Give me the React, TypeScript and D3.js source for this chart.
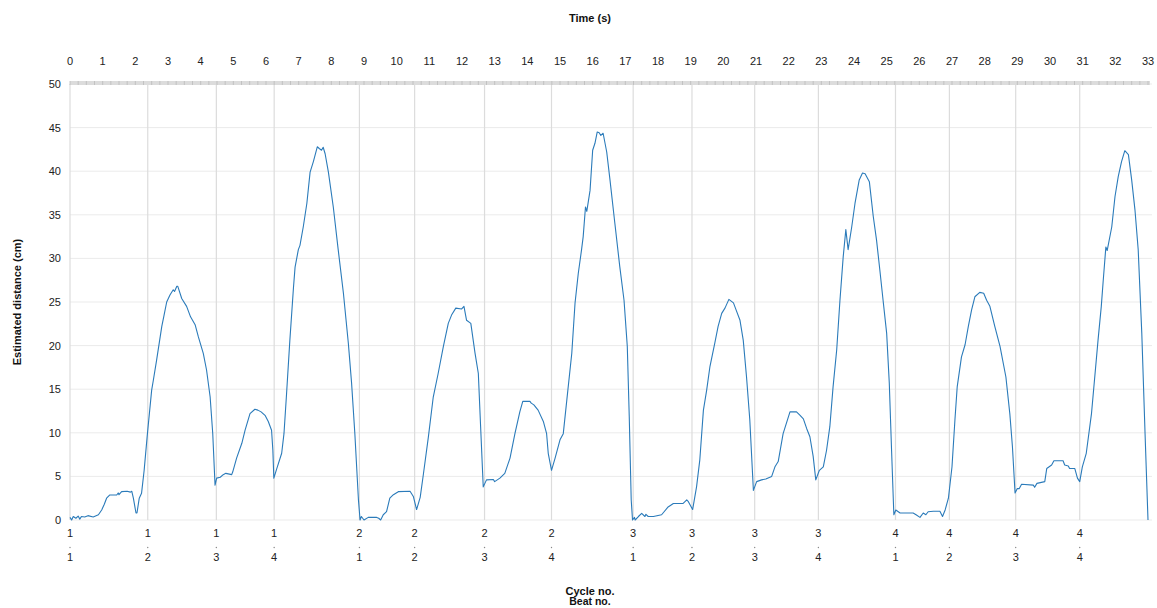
import React, { useEffect, useRef } from 'react';
import * as d3 from 'd3';

// distance trace (time in s, distance in cm)
const timeS = [
  0.0, 0.05, 0.1, 0.18, 0.25, 0.3, 0.35, 0.45, 0.55, 0.71, 0.87, 0.97, 1.05, 1.12, 1.22, 1.43, 1.48, 1.5, 1.58, 1.75,
  1.85, 1.89, 1.94, 2.02, 2.05, 2.12, 2.19, 2.27, 2.37, 2.5, 2.55, 2.65, 2.81, 2.88, 2.96, 3.06, 3.16, 3.2, 3.27, 3.3,
  3.42, 3.57, 3.69, 3.83, 3.93, 4.08, 4.18, 4.29, 4.37, 4.44, 4.49, 4.6, 4.69, 4.77, 4.95, 4.98, 5.1, 5.26, 5.36, 5.51,
  5.66, 5.75, 5.85, 5.97, 6.07, 6.17, 6.21, 6.24, 6.33, 6.48, 6.55, 6.63, 6.73, 6.84, 6.89, 6.99, 7.04, 7.14, 7.25, 7.35,
  7.45, 7.57, 7.63, 7.7, 7.75, 7.81, 7.91, 8.06, 8.21, 8.37, 8.52, 8.62, 8.72, 8.83, 8.88, 8.92, 9.0, 9.13, 9.39, 9.45,
  9.51, 9.59, 9.69, 9.79, 9.9, 10.05, 10.41, 10.51, 10.61, 10.72, 10.82, 10.97, 11.12, 11.27, 11.43, 11.58, 11.68, 11.81, 11.99, 12.06,
  12.14, 12.27, 12.4, 12.5, 12.57, 12.65, 12.75, 12.96, 13.0, 13.16, 13.31, 13.47, 13.62, 13.77, 13.86, 14.08, 14.12, 14.2, 14.33, 14.49,
  14.59, 14.64, 14.74, 14.85, 15.0, 15.1, 15.21, 15.36, 15.46, 15.56, 15.66, 15.71, 15.78, 15.82, 15.92, 16.0, 16.07, 16.14, 16.2, 16.25,
  16.32, 16.43, 16.53, 16.68, 16.83, 16.96, 17.06, 17.12, 17.18, 17.22, 17.28, 17.3, 17.4, 17.5, 17.6, 17.63, 17.7, 17.86, 18.11, 18.31,
  18.47, 18.77, 18.88, 18.93, 19.06, 19.18, 19.28, 19.39, 19.49, 19.59, 19.74, 19.84, 19.95, 20.05, 20.17, 20.31, 20.39, 20.51, 20.61, 20.71,
  20.81, 20.92, 21.02, 21.17, 21.3, 21.48, 21.58, 21.68, 21.83, 22.04, 22.24, 22.35, 22.45, 22.55, 22.65, 22.75, 22.83, 22.94, 23.06, 23.16,
  23.26, 23.36, 23.47, 23.57, 23.67, 23.75, 23.82, 23.93, 24.03, 24.16, 24.26, 24.34, 24.47, 24.59, 24.69, 24.79, 24.89, 25.0, 25.08, 25.15,
  25.22, 25.28, 25.41, 25.81, 25.9, 26.02, 26.12, 26.2, 26.27, 26.43, 26.63, 26.71, 26.79, 26.89, 27.0, 27.09, 27.16, 27.29, 27.4, 27.5,
  27.6, 27.7, 27.85, 27.97, 28.06, 28.16, 28.31, 28.47, 28.65, 28.77, 28.85, 28.93, 29.0, 29.06, 29.13, 29.49, 29.53, 29.6, 29.84, 29.9,
  30.05, 30.12, 30.4, 30.45, 30.56, 30.6, 30.76, 30.84, 30.91, 30.99, 31.11, 31.27, 31.37, 31.47, 31.57, 31.63, 31.71, 31.75, 31.89, 31.99,
  32.09, 32.19, 32.29, 32.4, 32.5, 32.6, 32.7, 32.81, 32.91, 33.0
];
const distanceCm = [
  0.3, 0.0, 0.4, 0.2, 0.45, 0.1, 0.4, 0.35, 0.5, 0.35, 0.6, 1.15, 1.8, 2.5, 2.87, 2.87, 3.1, 2.9, 3.25, 3.3,
  3.2, 3.3, 2.5, 0.8, 0.8, 2.5, 3.06, 5.7, 9.9, 14.9, 16.0, 18.3, 22.2, 23.5, 25.0, 25.8, 26.4, 26.2, 26.8, 26.8,
  25.4, 24.5, 23.3, 22.4, 21.0, 19.1, 17.2, 14.1, 9.9, 4.0, 4.8, 4.9, 5.2, 5.35, 5.2, 5.5, 7.1, 8.8, 10.3, 12.2,
  12.7, 12.6, 12.4, 12.0, 11.3, 10.3, 8.0, 4.8, 5.9, 7.65, 9.9, 14.5, 20.6, 26.6, 29.0, 31.0, 31.5, 33.6, 36.3, 39.9,
  41.1, 42.8, 42.6, 42.4, 42.75, 42.0, 39.9, 35.9, 31.0, 26.0, 20.3, 15.7, 9.9, 2.3, 0.0, 0.4, 0.0, 0.3, 0.3, 0.2,
  0.0, 0.6, 0.95, 2.5, 2.9, 3.25, 3.3, 2.7, 1.2, 2.6, 5.3, 9.5, 14.1, 16.8, 19.9, 22.55, 23.5, 24.3, 24.2, 24.5,
  22.9, 22.55, 19.1, 16.8, 10.7, 3.8, 4.6, 4.65, 4.4, 4.8, 5.35, 7.1, 9.9, 12.4, 13.6, 13.6, 13.4, 13.2, 12.6, 11.3,
  9.9, 7.65, 5.7, 7.1, 9.2, 9.9, 13.8, 19.1, 24.85, 28.3, 31.0, 32.5, 35.9, 35.4, 37.8, 42.4, 43.2, 44.5, 44.4, 44.1,
  44.35, 42.2, 39.0, 34.0, 29.05, 25.2, 19.9, 11.85, 2.3, 0.0, 0.3, 0.0, 0.4, 0.77, 0.4, 0.65, 0.4, 0.4, 0.6, 1.5,
  1.9, 1.9, 2.3, 2.1, 1.2, 3.8, 6.9, 12.6, 14.9, 17.6, 20.3, 22.2, 23.7, 24.3, 25.3, 24.9, 24.1, 22.9, 20.6, 16.4,
  11.5, 3.4, 4.4, 4.6, 4.7, 5.0, 6.1, 6.7, 9.9, 12.4, 12.4, 12.0, 11.6, 10.5, 9.55, 7.3, 4.6, 5.7, 6.1, 8.0,
  10.7, 15.3, 19.5, 25.2, 30.2, 33.3, 31.0, 33.6, 36.3, 39.0, 39.8, 39.7, 38.8, 34.8, 32.1, 28.7, 25.2, 21.4, 15.7, 8.0,
  0.6, 1.15, 0.8, 0.8, 0.6, 0.3, 0.8, 0.6, 0.95, 1.0, 1.0, 0.4, 1.15, 2.5, 6.1, 11.5, 15.3, 18.7, 20.1, 22.2,
  24.1, 25.6, 26.1, 26.0, 25.2, 24.5, 22.2, 19.9, 16.4, 12.2, 8.4, 3.1, 3.6, 3.6, 4.1, 4.0, 3.75, 4.2, 4.4, 5.9,
  6.3, 6.8, 6.8, 6.3, 6.2, 5.9, 5.9, 4.8, 4.4, 6.1, 7.65, 12.2, 16.4, 20.6, 24.5, 27.5, 31.3, 30.9, 33.6, 37.1,
  39.4, 41.1, 42.35, 41.9, 39.0, 35.6, 31.0, 21.4, 9.9, 0.0
];

// beat onsets
const beatTimes = [0, 2.38, 4.48, 6.25, 8.86, 10.55, 12.69, 14.74, 17.24, 19.04, 20.96, 22.91, 25.27, 26.92, 28.95, 30.91];
const cycleNo = [1, 1, 1, 1, 2, 2, 2, 2, 3, 3, 3, 3, 4, 4, 4, 4];
const beatNo = [1, 2, 3, 4, 1, 2, 3, 4, 1, 2, 3, 4, 1, 2, 3, 4];

const yTicks = [0, 5, 10, 15, 20, 25, 30, 35, 40, 45, 50];
const xTicks = d3.range(0, 34);

const FONT = '"Liberation Sans", Arial, sans-serif';

export default function App() {
  const ref = useRef(null);

  useEffect(() => {
    const W = 1157, H = 608;
    const left = 70, right = 1148, top = 84, bottom = 520;

    const svg = d3.select(ref.current);
    svg.selectAll('*').remove();
    svg.attr('width', W).attr('height', H);

    const x = d3.scaleLinear().domain([0, 33]).range([left, right]);
    const y = d3.scaleLinear().domain([0, 50]).range([bottom, top]);

    // horizontal grid
    svg.append('g')
      .selectAll('line')
      .data(yTicks)
      .enter()
      .append('line')
      .attr('x1', left).attr('x2', 1152)
      .attr('y1', d => y(d)).attr('y2', d => y(d))
      .attr('stroke', '#ebebeb')
      .attr('stroke-width', 1);

    // beat lines
    svg.append('g')
      .selectAll('line')
      .data(beatTimes)
      .enter()
      .append('line')
      .attr('x1', d => x(d)).attr('x2', d => x(d))
      .attr('y1', top).attr('y2', bottom)
      .attr('stroke', '#dcdcdc')
      .attr('stroke-width', 1.2);

    // top time band with minor ticks
    svg.append('rect')
      .attr('x', left).attr('y', top - 3)
      .attr('width', right - left + 2).attr('height', 4)
      .attr('fill', '#dcdcdc');
    svg.append('g')
      .selectAll('line')
      .data(d3.range(0, 33.01, 0.25))
      .enter()
      .append('line')
      .attr('x1', d => x(d)).attr('x2', d => x(d))
      .attr('y1', top - 3).attr('y2', top + 1)
      .attr('stroke', '#bbb')
      .attr('stroke-width', 0.8);

    // top axis labels
    svg.append('g')
      .selectAll('text')
      .data(xTicks)
      .enter()
      .append('text')
      .attr('x', d => x(d))
      .attr('y', 65)
      .attr('text-anchor', 'middle')
      .attr('font-family', FONT)
      .attr('font-size', 11)
      .attr('fill', '#222')
      .text(d => d);

    // y labels
    svg.append('g')
      .selectAll('text')
      .data(yTicks)
      .enter()
      .append('text')
      .attr('x', 61)
      .attr('y', d => y(d) + 4)
      .attr('text-anchor', 'end')
      .attr('font-family', FONT)
      .attr('font-size', 11)
      .attr('fill', '#222')
      .text(d => d);

    // the trace
    const pts = timeS.map((t, i) => [t, distanceCm[i]]);
    const line = d3.line().x(d => x(d[0])).y(d => y(d[1]));
    svg.append('path')
      .attr('d', line(pts))
      .attr('fill', 'none')
      .attr('stroke', '#2b7bba')
      .attr('stroke-width', 1.1)
      .attr('stroke-linejoin', 'round');

    // cycle / beat labels under the chart
    const g = svg.append('g').attr('font-family', FONT).attr('font-size', 11).attr('fill', '#222');
    g.selectAll('.cyc')
      .data(beatTimes)
      .enter()
      .append('text')
      .attr('class', 'cyc')
      .attr('x', d => x(d))
      .attr('y', 537)
      .attr('text-anchor', 'middle')
      .text((d, i) => cycleNo[i]);
    g.selectAll('.beat')
      .data(beatTimes)
      .enter()
      .append('text')
      .attr('class', 'beat')
      .attr('x', d => x(d))
      .attr('y', 561)
      .attr('text-anchor', 'middle')
      .text((d, i) => beatNo[i]);
    g.selectAll('circle')
      .data(beatTimes)
      .enter()
      .append('circle')
      .attr('cx', d => x(d))
      .attr('cy', 547.5)
      .attr('r', 0.7)
      .attr('fill', '#888');

    // titles
    const titles = svg.append('g')
      .attr('font-family', FONT)
      .attr('font-size', 11)
      .attr('font-weight', 'bold')
      .attr('fill', '#111')
      .attr('text-anchor', 'middle');
    titles.append('text').attr('x', 590).attr('y', 22).text('Time (s)');
    titles.append('text').attr('x', 590).attr('y', 595).text('Cycle no.');
    titles.append('text').attr('x', 590).attr('y', 605).attr('font-size', 10.5).text('Beat no.');
    titles.append('text')
      .attr('transform', `translate(21, ${(top + bottom) / 2}) rotate(-90)`)
      .text('Estimated distance (cm)');
  }, []);

  return (
    <div>
      <svg ref={ref} style={{ position: 'absolute', left: 0, top: 0 }} />
    </div>
  );
}
